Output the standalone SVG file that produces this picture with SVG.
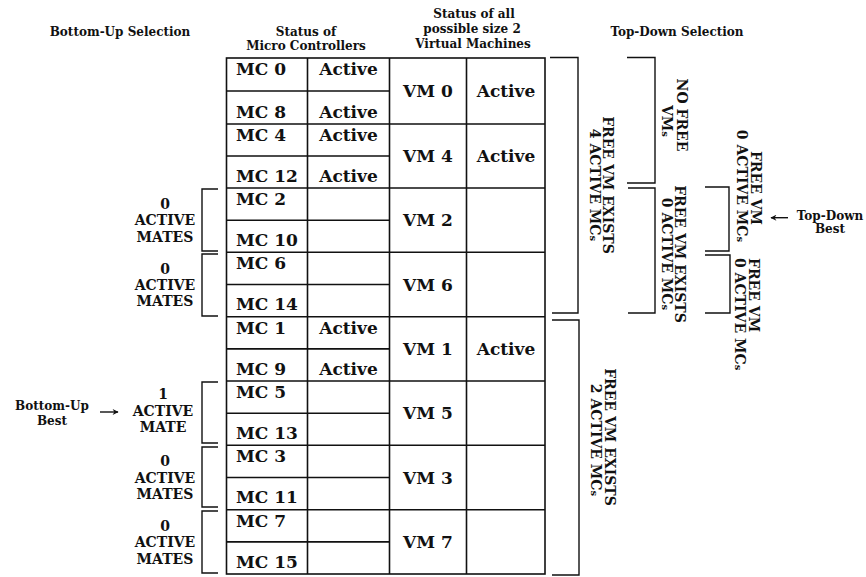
<svg xmlns="http://www.w3.org/2000/svg" width="866" height="577" viewBox="0 0 866 577">
<defs>
<marker id="ah" viewBox="0 0 10 10" refX="9" refY="5" markerWidth="8" markerHeight="6" markerUnits="userSpaceOnUse" orient="auto">
<path d="M0,0 L10,5 L0,10 L3,5 z" fill="#111"/>
</marker>
<style>
.t{font-family:"DejaVu Serif","Liberation Serif",serif;font-weight:bold;fill:#111}
.c{font-size:17px}
.m{text-anchor:middle}
.hd{font-size:12px}
.lb{font-size:14px;text-anchor:middle}
.rt{font-size:14px}
.ln{stroke:#111;stroke-width:1.6;fill:none}
.br{stroke:#111;stroke-width:1.4;fill:none}
.sm{font-size:10px}
</style>
</defs>
<rect width="866" height="577" fill="#fff"/>

<g id="headers" class="t hd">
<text class="m" x="120" y="36">Bottom-Up Selection</text>
<text class="m" x="306" y="36">Status of</text>
<text class="m" x="306" y="49.5">Micro Controllers</text>
<text class="m" x="474" y="18">Status of all</text>
<text class="m" x="472" y="32.5">possible size 2</text>
<text class="m" x="473" y="48">Virtual Machines</text>
<text class="m" x="677" y="36">Top-Down Selection</text>
</g>

<g id="table">
<rect class="ln" x="226.5" y="58" width="318.5" height="516"/>
<path class="ln" d="M307.5,58V574M389.5,58V574M466.5,58V574"/>
<path class="ln" d="M226.5,124H545M226.5,188H545M226.5,252.3H545M226.5,316.7H545M226.5,381H545M226.5,445.3H545M226.5,509.7H545"/>
<path class="ln" d="M226.5,91H389.5M226.5,156H389.5M226.5,220.2H389.5M226.5,284.5H389.5M226.5,348.9H389.5M226.5,413.2H389.5M226.5,477.5H389.5M226.5,541.9H389.5"/>
</g>

<g id="vm0" class="t c">
<text x="236" y="75">MC 0</text><text class="m" x="348.5" y="75">Active</text>
<text x="236" y="117.5">MC 8</text><text class="m" x="348.5" y="117.5">Active</text>
<text class="m" x="428" y="97">VM 0</text><text class="m" x="506" y="97">Active</text>
</g>
<g id="vm4" class="t c">
<text x="236" y="141">MC 4</text><text class="m" x="348.5" y="141">Active</text>
<text x="236" y="181.5">MC 12</text><text class="m" x="348.5" y="181.5">Active</text>
<text class="m" x="428" y="162">VM 4</text><text class="m" x="506" y="162">Active</text>
</g>
<g id="vm2" class="t c">
<text x="236" y="205">MC 2</text>
<text x="236" y="245.8">MC 10</text>
<text class="m" x="428" y="226.2">VM 2</text>
</g>
<g id="vm6" class="t c">
<text x="236" y="269.3">MC 6</text>
<text x="236" y="310.2">MC 14</text>
<text class="m" x="428" y="290.5">VM 6</text>
</g>
<g id="vm1" class="t c">
<text x="236" y="333.7">MC 1</text><text class="m" x="348.5" y="333.7">Active</text>
<text x="236" y="374.5">MC 9</text><text class="m" x="348.5" y="374.5">Active</text>
<text class="m" x="428" y="354.9">VM 1</text><text class="m" x="506" y="354.9">Active</text>
</g>
<g id="vm5" class="t c">
<text x="236" y="398">MC 5</text>
<text x="236" y="438.8">MC 13</text>
<text class="m" x="428" y="419.2">VM 5</text>
</g>
<g id="vm3" class="t c">
<text x="236" y="462.3">MC 3</text>
<text x="236" y="503.2">MC 11</text>
<text class="m" x="428" y="483.5">VM 3</text>
</g>
<g id="vm7" class="t c">
<text x="236" y="526.7">MC 7</text>
<text x="236" y="567.5">MC 15</text>
<text class="m" x="428" y="547.9">VM 7</text>
</g>

<g id="bu-vm2"><path class="br" d="M218,189H202V251H218"/>
<g class="t lb"><text x="165" y="209">0</text><text x="165" y="225">ACTIVE</text><text x="165" y="241.5">MATES</text></g></g>
<g id="bu-vm6"><path class="br" d="M218,254H202V316H218"/>
<g class="t lb"><text x="165" y="273.5">0</text><text x="165" y="289.5">ACTIVE</text><text x="165" y="306">MATES</text></g></g>
<g id="bu-vm5"><path class="br" d="M218,382H202V443H218"/>
<g class="t lb"><text x="163" y="399">1</text><text x="163" y="416">ACTIVE</text><text x="163" y="432">MATE</text></g></g>
<g id="bu-vm3"><path class="br" d="M218,447H202V507H218"/>
<g class="t lb"><text x="165" y="466">0</text><text x="165" y="482.5">ACTIVE</text><text x="165" y="499">MATES</text></g></g>
<g id="bu-vm7"><path class="br" d="M218,511H202V573H218"/>
<g class="t lb"><text x="165" y="530.5">0</text><text x="165" y="547">ACTIVE</text><text x="165" y="563.5">MATES</text></g></g>

<g id="bu-best" class="t hd">
<text class="m" x="52" y="410">Bottom-Up</text>
<text class="m" x="52" y="425">Best</text>
</g>

<g id="free4"><path class="br" d="M550,57.5H578V313H552"/>
<g class="t rt m">
<text transform="translate(603,185) rotate(90)">FREE VM EXISTS</text>
<text transform="translate(590,185) rotate(90)">4 ACTIVE MC<tspan class="sm">s</tspan></text>
</g></g>
<g id="free2"><path class="br" d="M552,320H579V575H552"/>
<g class="t rt m">
<text transform="translate(605,437) rotate(90)">FREE VM EXISTS</text>
<text transform="translate(591,440) rotate(90)">2 ACTIVE MC<tspan class="sm">s</tspan></text>
</g></g>

<g id="nofree"><path class="br" d="M627,57.5H655V183H627"/>
<g class="t rt m">
<text transform="translate(677,115) rotate(90)">NO FREE</text>
<text transform="translate(662,121) rotate(90)">VM<tspan class="sm">s</tspan></text>
</g></g>
<g id="free0"><path class="br" d="M628,188H655V313H628"/>
<g class="t rt m">
<text transform="translate(675,254) rotate(90)">FREE VM EXISTS</text>
<text transform="translate(662,254) rotate(90)">0 ACTIVE MC<tspan class="sm">s</tspan></text>
</g></g>
<g id="free0a"><path class="br" d="M705,187H729V251H705"/>
<g class="t rt m">
<text transform="translate(751,188) rotate(90)">FREE VM</text>
<text transform="translate(737,186) rotate(90)">0 ACTIVE MC<tspan class="sm">s</tspan></text>
</g></g>
<g id="free0b"><path class="br" d="M705,255H730V313H705"/>
<g class="t rt">
<text transform="translate(749,258) rotate(90)">FREE VM</text>
<text transform="translate(735,258) rotate(90)">0 ACTIVE MC<tspan class="sm">s</tspan></text>
</g></g>

<g id="td-best" class="t hd">
<text class="m" x="830" y="219.5">Top-Down</text>
<text class="m" x="830" y="233">Best</text>
</g>

<g id="connectors">
<line class="br" x1="100" y1="412" x2="118" y2="412" marker-end="url(#ah)"/>
<line class="br" x1="788" y1="217.7" x2="771" y2="217.7" marker-end="url(#ah)"/>
</g>
</svg>
